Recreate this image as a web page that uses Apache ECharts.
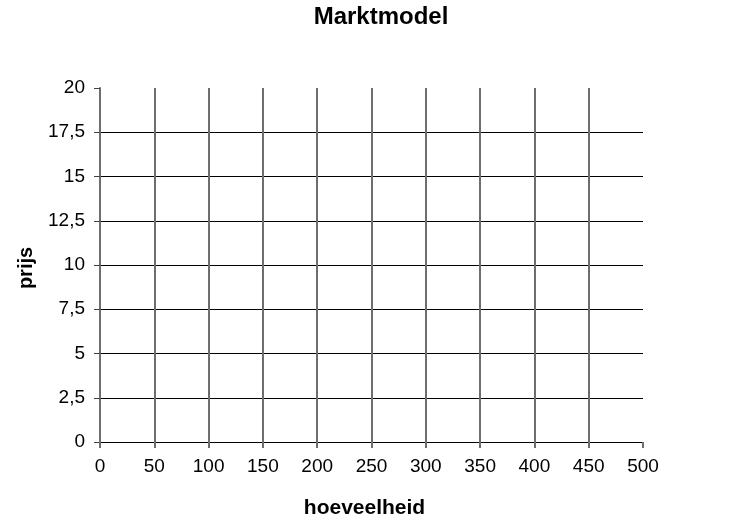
<!DOCTYPE html>
<html>
<head>
<meta charset="utf-8">
<script src="https://cdn.jsdelivr.net/npm/echarts@6/dist/echarts.min.js"></script>
<style>html,body{margin:0;padding:0;background:#fff}#c{width:750px;height:531px}</style>
</head>
<body>
<div id="c"></div>
<script>
var titleText = 'Marktmodel';
var xName = 'hoeveelheid';
var yName = 'prijs';
var xTicks = [0, 50, 100, 150, 200, 250, 300, 350, 400, 450, 500];
var yTicks = [0, 2.5, 5, 7.5, 10, 12.5, 15, 17.5, 20];
var yTickLabels = ['0', '2,5', '5', '7,5', '10', '12,5', '15', '17,5', '20'];
var seriesData = [];

var FONT = '"Liberation Sans", Arial, sans-serif';
var chart = echarts.init(document.getElementById('c'), null, {renderer: 'canvas'});
chart.setOption({
  animation: false,
  backgroundColor: '#fff',
  title: {
    text: titleText, left: 376, top: 0, textAlign: 'center',
    textStyle: {fontFamily: FONT, fontSize: 24, fontWeight: 'bold', color: '#000'}
  },
  grid: {left: 100, right: 107, top: 88, bottom: 89, containLabel: false},
  xAxis: {
    type: 'value', min: xTicks[0], max: xTicks[xTicks.length - 1], interval: xTicks[1] - xTicks[0],
    name: xName, nameLocation: 'middle', nameGap: 56,
    nameTextStyle: {fontFamily: FONT, fontSize: 21, fontWeight: 'bold', color: '#000', padding: [0, 14, 0, 0]},
    axisLine: {show: true, lineStyle: {color: '#000', width: 1}},
    axisTick: {show: true, length: 6, lineStyle: {color: '#6e6e6e', width: 2}},
    axisLabel: {margin: 15, fontFamily: FONT, fontSize: 19, color: '#000'},
    splitLine: {show: true, showMinLine: false, showMaxLine: false, lineStyle: {color: '#6e6e6e', width: 2}}
  },
  yAxis: {
    type: 'value', min: yTicks[0], max: yTicks[yTicks.length - 1], interval: yTicks[1] - yTicks[0],
    name: yName, nameLocation: 'middle', nameGap: 64, nameRotate: 90,
    nameTextStyle: {fontFamily: FONT, fontSize: 20, fontWeight: 'bold', color: '#000', padding: [0, 6, 0, 0]},
    axisLine: {show: true, lineStyle: {color: '#6e6e6e', width: 2}},
    axisTick: {show: true, length: 6, lineStyle: {color: '#444', width: 1}},
    axisLabel: {margin: 15, fontFamily: FONT, fontSize: 19, color: '#000',
      formatter: function (v) { var i = yTicks.indexOf(v); return i >= 0 ? yTickLabels[i] : String(v); }},
    splitLine: {show: true, showMinLine: false, showMaxLine: false, lineStyle: {color: '#000', width: 1}}
  },
  series: [{type: 'line', data: seriesData}]
});
</script>
</body>
</html>
